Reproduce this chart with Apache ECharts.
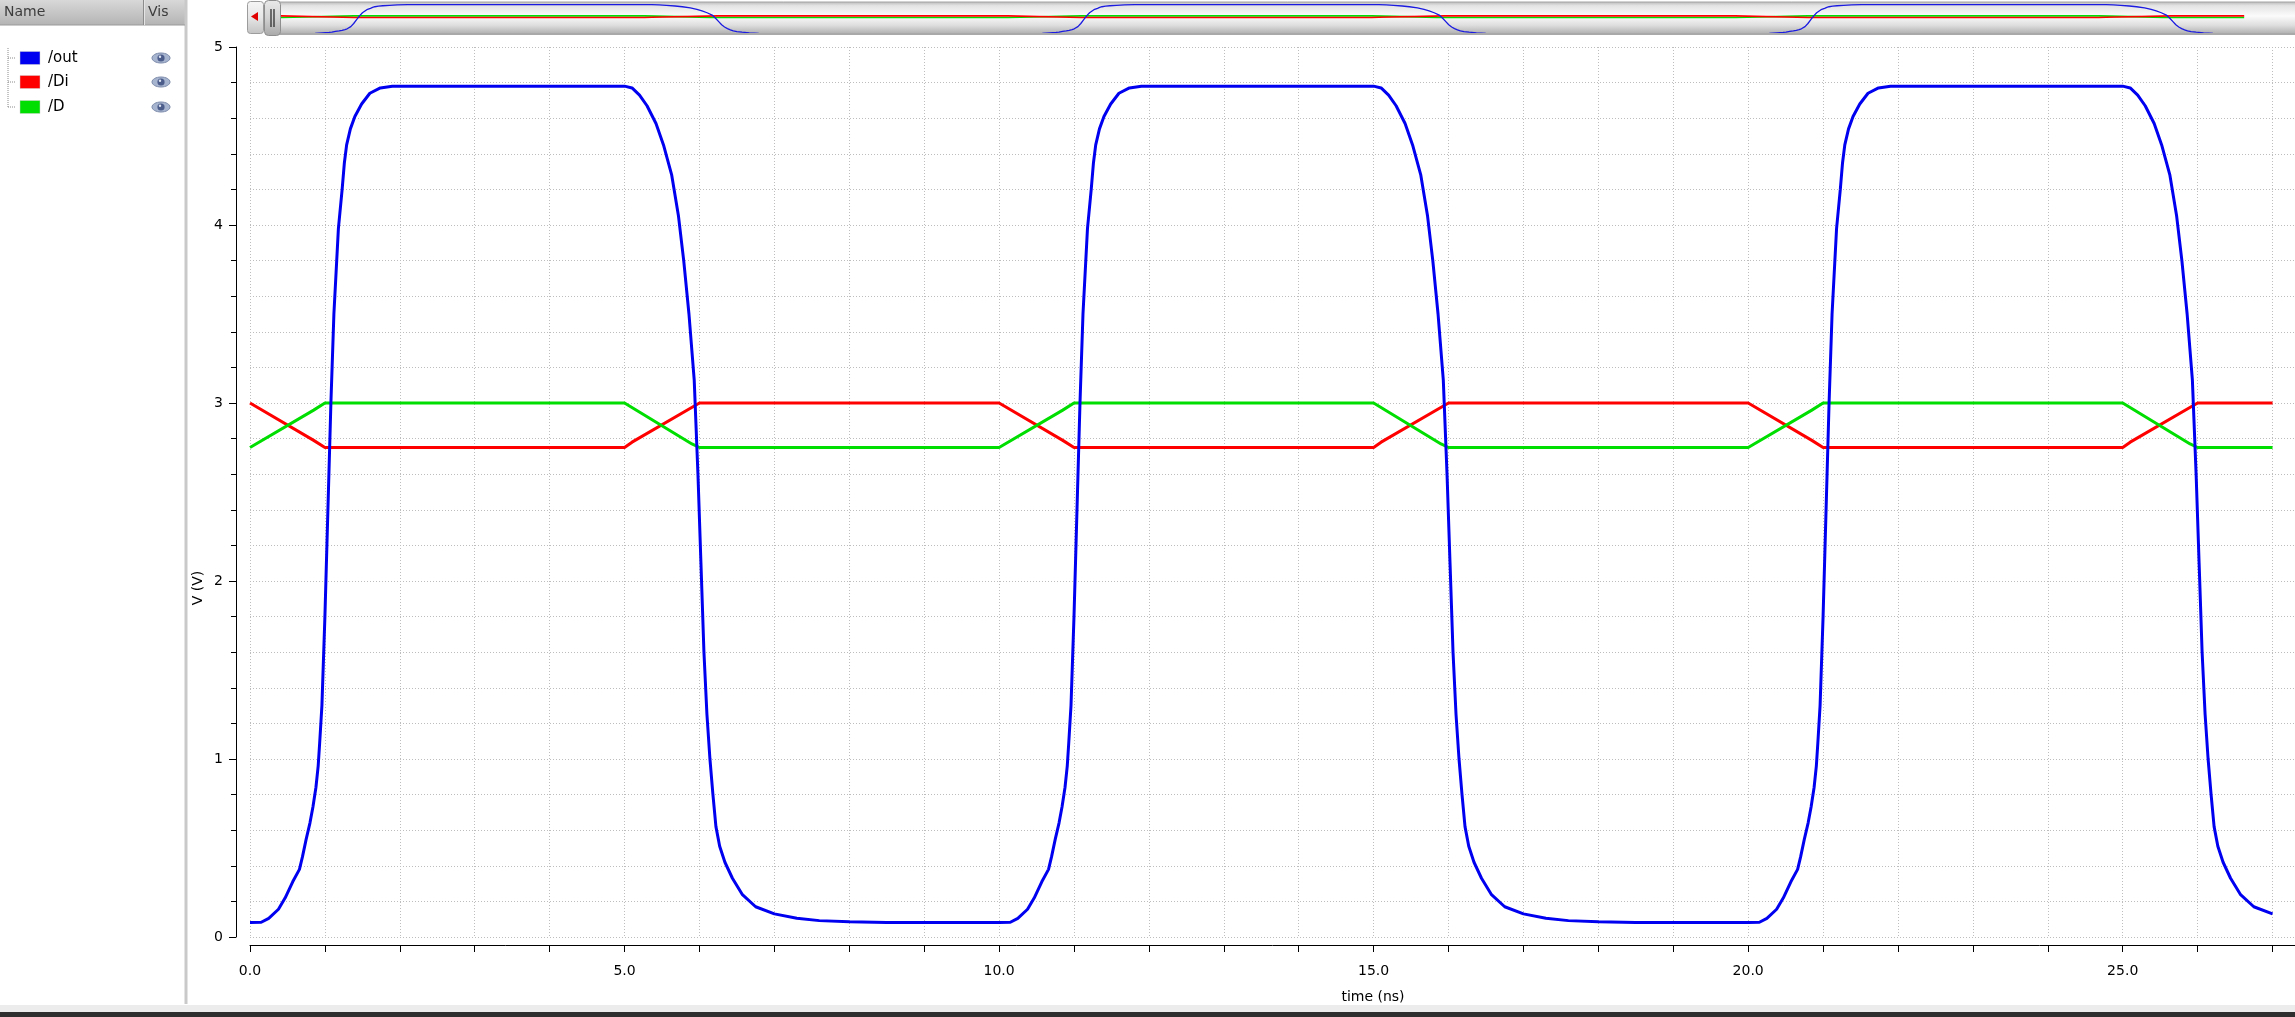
<!DOCTYPE html>
<html>
<head>
<meta charset="utf-8">
<script src="https://cdn.jsdelivr.net/npm/echarts@6/dist/echarts.min.js"></script>
<style>
html,body{margin:0;padding:0;background:#fff;}
#chart{width:2295px;height:1017px;}
</style>
</head>
<body>
<div id="chart"></div>
<script>
// ---- data (time in ns, voltage in V) ----
const seriesNames = ['/out', '/Di', '/D'];
const seriesColors = ['#0000f0', '#ff0000', '#00dd00'];

const outPoints = [
  [0,0.082],[0.15,0.083],[0.25,0.105],[0.38,0.156],[0.47,0.22],[0.57,0.31],[0.66,0.38],[0.70,0.45],[0.75,0.55],[0.80,0.64],
  [0.84,0.73],[0.88,0.84],[0.91,0.96],[0.93,1.09],[0.96,1.3],[1.0,1.8],[1.04,2.4],[1.08,3.0],[1.12,3.5],[1.18,3.98],
  [1.23,4.2],[1.26,4.35],[1.29,4.45],[1.34,4.54],[1.40,4.61],[1.49,4.68],[1.6,4.74],[1.74,4.77],[1.9,4.78],[5.0,4.78],
  [5.1,4.77],[5.2,4.73],[5.3,4.67],[5.42,4.57],[5.52,4.45],[5.63,4.28],[5.72,4.05],[5.79,3.8],[5.86,3.5],[5.93,3.13],
  [5.98,2.6],[6.02,2.1],[6.06,1.6],[6.1,1.25],[6.14,1.0],[6.18,0.8],[6.22,0.62],[6.27,0.51],[6.34,0.42],[6.44,0.33],
  [6.57,0.24],[6.75,0.17],[7.0,0.13],[7.3,0.105],[7.6,0.092],[8.0,0.085],[8.5,0.082],[10.0,0.082],
  [10.15,0.083],[10.25,0.105],[10.38,0.156],[10.47,0.22],[10.57,0.31],[10.66,0.38],[10.70,0.45],[10.75,0.55],[10.80,0.64],
  [10.84,0.73],[10.88,0.84],[10.91,0.96],[10.93,1.09],[10.96,1.3],[11.0,1.8],[11.04,2.4],[11.08,3.0],[11.12,3.5],[11.18,3.98],
  [11.23,4.2],[11.26,4.35],[11.29,4.45],[11.34,4.54],[11.40,4.61],[11.49,4.68],[11.6,4.74],[11.74,4.77],[11.9,4.78],[15.0,4.78],
  [15.1,4.77],[15.2,4.73],[15.3,4.67],[15.42,4.57],[15.52,4.45],[15.63,4.28],[15.72,4.05],[15.79,3.8],[15.86,3.5],[15.93,3.13],
  [15.98,2.6],[16.02,2.1],[16.06,1.6],[16.1,1.25],[16.14,1.0],[16.18,0.8],[16.22,0.62],[16.27,0.51],[16.34,0.42],[16.44,0.33],
  [16.57,0.24],[16.75,0.17],[17.0,0.13],[17.3,0.105],[17.6,0.092],[18.0,0.085],[18.5,0.082],[20.0,0.082],
  [20.15,0.083],[20.25,0.105],[20.38,0.156],[20.47,0.22],[20.57,0.31],[20.66,0.38],[20.70,0.45],[20.75,0.55],[20.80,0.64],
  [20.84,0.73],[20.88,0.84],[20.91,0.96],[20.93,1.09],[20.96,1.3],[21.0,1.8],[21.04,2.4],[21.08,3.0],[21.12,3.5],[21.18,3.98],
  [21.23,4.2],[21.26,4.35],[21.29,4.45],[21.34,4.54],[21.40,4.61],[21.49,4.68],[21.6,4.74],[21.74,4.77],[21.9,4.78],[25.0,4.78],
  [25.1,4.77],[25.2,4.73],[25.3,4.67],[25.42,4.57],[25.52,4.45],[25.63,4.28],[25.72,4.05],[25.79,3.8],[25.86,3.5],[25.93,3.13],
  [25.98,2.6],[26.02,2.1],[26.06,1.6],[26.1,1.25],[26.14,1.0],[26.18,0.8],[26.22,0.62],[26.27,0.51],[26.34,0.42],[26.44,0.33],
  [26.57,0.24],[26.75,0.17],[27.0,0.13]
];

const diPoints = [
  [0,3.0],[0.85,2.79],[1,2.75],[5,2.75],[5.1,2.78],[6,3.0],[10,3.0],[10.85,2.79],[11,2.75],[15,2.75],
  [15.1,2.78],[16,3.0],[20,3.0],[20.85,2.79],[21,2.75],[25,2.75],[25.1,2.78],[26,3.0],[27,3.0]
];

const dPoints = [
  [0,2.75],[0.85,2.96],[1,3.0],[5,3.0],[5.9,2.77],[6,2.75],[10,2.75],[10.85,2.96],[11,3.0],[15,3.0],
  [15.9,2.77],[16,2.75],[20,2.75],[20.85,2.96],[21,3.0],[25,3.0],[25.9,2.77],[26,2.75],[27,2.75]
];

const xTickLabelEvery = 5;      // labels at 0.0, 5.0, ...
const xAxisName = 'time (ns)';
const yAxisName = 'V (V)';

// ---- chart ----
const FONT = '"DejaVu Sans", "Liberation Sans", sans-serif';
const chart = echarts.init(document.getElementById('chart'), null, {renderer: 'canvas'});

const gridStyle = {color: '#bdbdbd', width: 1, type: [1, 2]};

function legendRow(i, y) {
  return [
    {type: 'line', z: 10, shape: {x1: 8, y1: y, x2: 16, y2: y}, style: {stroke: '#8a8a8a', lineWidth: 1, lineDash: [1, 1]}},
    {type: 'rect', z: 10, shape: {x: 20, y: y - 6.5, width: 20, height: 13}, style: {fill: seriesColors[i], stroke: '#d0d0d0', lineWidth: 0.5}},
    {type: 'text', z: 10, x: 48, y: y, style: {text: seriesNames[i], font: '15px ' + FONT, fill: '#000', verticalAlign: 'middle'}},
    {type: 'ellipse', z: 10, shape: {cx: 161, cy: y, rx: 9, ry: 5}, style: {fill: '#a7b4cf', stroke: '#7d8bab', lineWidth: 1}},
    {type: 'circle', z: 11, shape: {cx: 161, cy: y, r: 3.6}, style: {fill: '#4c5d8c'}},
    {type: 'circle', z: 12, shape: {cx: 160, cy: y - 1.3, r: 1.2}, style: {fill: '#dfe5f2'}}
  ];
}

const trackGrad = new echarts.graphic.LinearGradient(0, 0, 0, 1, [
  {offset: 0, color: '#bcbcbc'}, {offset: 0.12, color: '#e4e4e4'}, {offset: 0.45, color: '#fbfbfb'},
  {offset: 0.75, color: '#dedede'}, {offset: 1, color: '#b4b4b4'}
]);
const btnGrad = new echarts.graphic.LinearGradient(0, 0, 0, 1, [
  {offset: 0, color: '#f6f6f6'}, {offset: 0.5, color: '#e6e6e6'}, {offset: 1, color: '#c2c2c2'}
]);
const thumbGrad = new echarts.graphic.LinearGradient(0, 0, 0, 1, [
  {offset: 0, color: '#e9e9e9'}, {offset: 0.5, color: '#d2d2d2'}, {offset: 1, color: '#a8a8a8'}
]);
const headGrad = new echarts.graphic.LinearGradient(0, 0, 0, 1, [
  {offset: 0, color: '#d8d8d8'}, {offset: 1, color: '#b4b4b4'}
]);

const graphics = [
  // left panel header
  {type: 'rect', z: 1, shape: {x: 0, y: 0, width: 185, height: 25}, style: {fill: headGrad}},
  {type: 'line', z: 2, shape: {x1: 0, y1: 25, x2: 185, y2: 25}, style: {stroke: '#9a9a9a', lineWidth: 1}},
  {type: 'line', z: 2, shape: {x1: 143.5, y1: 0, x2: 143.5, y2: 25}, style: {stroke: '#8c8c8c', lineWidth: 1}},
  {type: 'line', z: 2, shape: {x1: 144.5, y1: 0, x2: 144.5, y2: 25}, style: {stroke: '#e4e4e4', lineWidth: 1}},
  {type: 'text', z: 3, x: 4, y: 12.5, style: {text: 'Name', font: '14px ' + FONT, fill: '#3c3c3c', verticalAlign: 'middle'}},
  {type: 'text', z: 3, x: 148, y: 12.5, style: {text: 'Vis', font: '14px ' + FONT, fill: '#3c3c3c', verticalAlign: 'middle'}},
  // panel border
  {type: 'rect', z: 1, shape: {x: 184.5, y: 0, width: 3, height: 1004}, style: {fill: '#c9c9c9'}},
  // tree line
  {type: 'line', z: 10, shape: {x1: 8, y1: 48, x2: 8, y2: 107}, style: {stroke: '#8a8a8a', lineWidth: 1, lineDash: [1, 1]}},
  ...legendRow(0, 58),
  ...legendRow(1, 82),
  ...legendRow(2, 107),
  // bottom bars
  {type: 'rect', z: 1, shape: {x: 0, y: 1005, width: 2295, height: 7}, style: {fill: '#ececec'}},
  {type: 'rect', z: 1, shape: {x: 0, y: 1012, width: 2295, height: 5}, style: {fill: '#2e2e2e'}},
  // overview scroll bar
  {type: 'rect', z: 0, shape: {x: 280, y: 2, width: 2020, height: 31}, style: {fill: trackGrad}},
  {type: 'line', z: 0, shape: {x1: 280, y1: 2, x2: 2295, y2: 2}, style: {stroke: '#a4a4a4', lineWidth: 1}},
  // bottom edge of the track, drawn over the overview traces
  {type: 'rect', z: 30, shape: {x: 280, y: 33, width: 2020, height: 2}, style: {fill: '#a9a9a9'}},
  {type: 'rect', z: 30, shape: {x: 280, y: 35, width: 2020, height: 4}, style: {fill: '#ffffff'}},
  {type: 'rect', z: 31, shape: {x: 247.5, y: 1.5, width: 16, height: 32, r: 3}, style: {fill: btnGrad, stroke: '#9c9c9c', lineWidth: 1}},
  {type: 'polygon', z: 32, shape: {points: [[251, 16.5], [258, 12], [258, 21]]}, style: {fill: '#e00000'}},
  {type: 'rect', z: 31, shape: {x: 264.5, y: 0.5, width: 16, height: 35, r: 4}, style: {fill: thumbGrad, stroke: '#8e8e8e', lineWidth: 1}},
  {type: 'line', z: 32, shape: {x1: 271, y1: 9, x2: 271, y2: 27}, style: {stroke: '#222', lineWidth: 1.2}},
  {type: 'line', z: 32, shape: {x1: 274, y1: 9, x2: 274, y2: 27}, style: {stroke: '#222', lineWidth: 1.2}},
  // axis names
  {type: 'text', z: 5, x: 1373, y: 997, style: {text: xAxisName, font: '14px ' + FONT, fill: '#000', align: 'center', verticalAlign: 'middle'}},
  {type: 'text', z: 5, x: 198, y: 588, rotation: Math.PI / 2, style: {text: yAxisName, font: '14px ' + FONT, fill: '#000', align: 'center', verticalAlign: 'middle'}}
];

const option = {
  animation: false,
  backgroundColor: '#ffffff',
  graphic: graphics,
  grid: [
    {left: 250, top: 47, height: 890, right: 0, containLabel: false},
    {left: 281, top: 2, height: 31.3, right: 29, containLabel: false}
  ],
  xAxis: [
    {
      type: 'value', gridIndex: 0, min: 0, max: 27.3, interval: 1, offset: 8,
      axisLine: {show: true, onZero: false, lineStyle: {color: '#000', width: 1}},
      axisTick: {show: true, length: 7, inside: false, lineStyle: {color: '#000', width: 1}},
      axisLabel: {
        show: true, margin: 19, color: '#000', fontFamily: FONT, fontSize: 14, showMaxLabel: false,
        formatter: function (v) {
          const r = v / xTickLabelEvery;
          return Math.abs(r - Math.round(r)) < 1e-9 ? v.toFixed(1) : '';
        }
      },
      splitLine: {show: true, lineStyle: gridStyle}
    },
    {type: 'value', gridIndex: 1, min: 0, max: 27.3, show: false}
  ],
  yAxis: [
    {
      type: 'value', gridIndex: 0, min: 0, max: 5, interval: 1, offset: 14,
      axisLine: {show: true, onZero: false, lineStyle: {color: '#000', width: 1}},
      axisTick: {show: true, length: 7, lineStyle: {color: '#000', width: 1}},
      minorTick: {show: true, splitNumber: 5, length: 5, lineStyle: {color: '#000', width: 1}},
      axisLabel: {show: true, margin: 13, color: '#000', fontFamily: FONT, fontSize: 14, formatter: function (v) { return String(Math.round(v)); }},
      splitLine: {show: true, lineStyle: gridStyle},
      minorSplitLine: {show: true, lineStyle: gridStyle}
    },
    {type: 'value', gridIndex: 1, min: 0.25, max: 5.2, show: false}
  ],
  series: [
    {name: '/Di', type: 'line', xAxisIndex: 0, yAxisIndex: 0, data: diPoints, showSymbol: false, z: 3,
      lineStyle: {color: seriesColors[1], width: 3}, itemStyle: {color: seriesColors[1]}},
    {name: '/D', type: 'line', xAxisIndex: 0, yAxisIndex: 0, data: dPoints, showSymbol: false, z: 4,
      lineStyle: {color: seriesColors[2], width: 3}, itemStyle: {color: seriesColors[2]}},
    {name: '/out', type: 'line', xAxisIndex: 0, yAxisIndex: 0, data: outPoints, showSymbol: false, z: 5,
      lineStyle: {color: seriesColors[0], width: 3}, itemStyle: {color: seriesColors[0]}},
    {name: 'ov-D', type: 'line', xAxisIndex: 1, yAxisIndex: 1, data: dPoints, showSymbol: false, z: 6, clip: true,
      lineStyle: {color: '#00dd00', width: 1.6}},
    {name: 'ov-Di', type: 'line', xAxisIndex: 1, yAxisIndex: 1, data: diPoints, showSymbol: false, z: 7, clip: true,
      lineStyle: {color: '#ff0000', width: 1.6}},
    {name: 'ov-out', type: 'line', xAxisIndex: 1, yAxisIndex: 1, data: outPoints, showSymbol: false, z: 8, clip: true,
      lineStyle: {color: '#1a1ae0', width: 1.3}}
  ]
};
chart.setOption(option);
</script>
</body>
</html>
